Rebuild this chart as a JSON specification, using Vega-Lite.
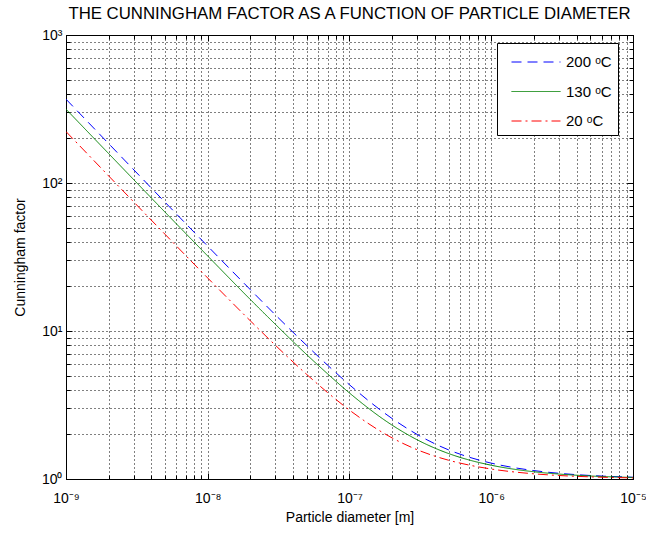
{
  "$schema": "https://vega.github.io/schema/vega-lite/v6.json",
  "width": 567,
  "height": 444,
  "autosize": {"type": "none"},
  "padding": {"left": 66, "top": 35, "right": 13, "bottom": 55},
  "background": "white",
  "config": {
    "font": "Liberation Sans, Arial, sans-serif",
    "view": {"stroke": "black", "strokeWidth": 1},
    "axis": {"labelColor": "black", "titleColor": "black", "tickColor": "black", "titleFontWeight": "normal", "labelFontSize": 14, "titleFontSize": 14, "domain": false, "minExtent": 0}
  },
  "title": {"text": "THE CUNNINGHAM FACTOR AS A FUNCTION OF PARTICLE DIAMETER", "fontSize": 16.8, "fontWeight": "normal", "color": "black", "anchor": "middle", "orient": "top", "baseline": "bottom", "offset": 6, "dy": 18, "frame": "group"},
  "data": {"values": [
    {"d": 1e-9, "cc": 368.4, "series": "200 ᵒC"},
    {"d": 2e-9, "cc": 184.5, "series": "200 ᵒC"},
    {"d": 5e-9, "cc": 74.1, "series": "200 ᵒC"},
    {"d": 1e-8, "cc": 37.4, "series": "200 ᵒC"},
    {"d": 2e-8, "cc": 19.0, "series": "200 ᵒC"},
    {"d": 3e-8, "cc": 12.85, "series": "200 ᵒC"},
    {"d": 5e-8, "cc": 7.97, "series": "200 ᵒC"},
    {"d": 7e-8, "cc": 5.88, "series": "200 ᵒC"},
    {"d": 1e-7, "cc": 4.33, "series": "200 ᵒC"},
    {"d": 2e-7, "cc": 2.56, "series": "200 ᵒC"},
    {"d": 3e-7, "cc": 2.0, "series": "200 ᵒC"},
    {"d": 5e-7, "cc": 1.573, "series": "200 ᵒC"},
    {"d": 7e-7, "cc": 1.403, "series": "200 ᵒC"},
    {"d": 1e-6, "cc": 1.28, "series": "200 ᵒC"},
    {"d": 2e-6, "cc": 1.14, "series": "200 ᵒC"},
    {"d": 3e-6, "cc": 1.093, "series": "200 ᵒC"},
    {"d": 5e-6, "cc": 1.056, "series": "200 ᵒC"},
    {"d": 1e-5, "cc": 1.028, "series": "200 ᵒC"},
    {"d": 1e-9, "cc": 315.4, "series": "130 ᵒC"},
    {"d": 2e-9, "cc": 158.0, "series": "130 ᵒC"},
    {"d": 5e-9, "cc": 63.5, "series": "130 ᵒC"},
    {"d": 1e-8, "cc": 32.1, "series": "130 ᵒC"},
    {"d": 2e-8, "cc": 16.3, "series": "130 ᵒC"},
    {"d": 3e-8, "cc": 11.09, "series": "130 ᵒC"},
    {"d": 5e-8, "cc": 6.91, "series": "130 ᵒC"},
    {"d": 7e-8, "cc": 5.14, "series": "130 ᵒC"},
    {"d": 1e-7, "cc": 3.81, "series": "130 ᵒC"},
    {"d": 2e-7, "cc": 2.31, "series": "130 ᵒC"},
    {"d": 3e-7, "cc": 1.841, "series": "130 ᵒC"},
    {"d": 5e-7, "cc": 1.486, "series": "130 ᵒC"},
    {"d": 7e-7, "cc": 1.343, "series": "130 ᵒC"},
    {"d": 1e-6, "cc": 1.239, "series": "130 ᵒC"},
    {"d": 2e-6, "cc": 1.119, "series": "130 ᵒC"},
    {"d": 3e-6, "cc": 1.08, "series": "130 ᵒC"},
    {"d": 5e-6, "cc": 1.048, "series": "130 ᵒC"},
    {"d": 1e-5, "cc": 1.024, "series": "130 ᵒC"},
    {"d": 1e-9, "cc": 222.6, "series": "20 ᵒC"},
    {"d": 2e-9, "cc": 111.6, "series": "20 ᵒC"},
    {"d": 5e-9, "cc": 45.0, "series": "20 ᵒC"},
    {"d": 1e-8, "cc": 22.8, "series": "20 ᵒC"},
    {"d": 2e-8, "cc": 11.7, "series": "20 ᵒC"},
    {"d": 3e-8, "cc": 8.01, "series": "20 ᵒC"},
    {"d": 5e-8, "cc": 5.08, "series": "20 ᵒC"},
    {"d": 7e-8, "cc": 3.84, "series": "20 ᵒC"},
    {"d": 1e-7, "cc": 2.92, "series": "20 ᵒC"},
    {"d": 2e-7, "cc": 1.894, "series": "20 ᵒC"},
    {"d": 3e-7, "cc": 1.577, "series": "20 ᵒC"},
    {"d": 5e-7, "cc": 1.339, "series": "20 ᵒC"},
    {"d": 7e-7, "cc": 1.241, "series": "20 ᵒC"},
    {"d": 1e-6, "cc": 1.168, "series": "20 ᵒC"},
    {"d": 2e-6, "cc": 1.084, "series": "20 ᵒC"},
    {"d": 3e-6, "cc": 1.056, "series": "20 ᵒC"},
    {"d": 5e-6, "cc": 1.034, "series": "20 ᵒC"},
    {"d": 1e-5, "cc": 1.017, "series": "20 ᵒC"}
  ]},
  "resolve": {"axis": {"x": "independent", "y": "independent"}},
  "layer": [
    {
      "mark": {"type": "line", "strokeWidth": 1, "interpolate": "monotone", "clip": true},
      "encoding": {
        "x": {"field": "d", "type": "quantitative", "scale": {"type": "log", "domain": [1e-9, 1e-5], "nice": false},
          "axis": {"orient": "bottom", "values": [1e-9,2e-9,3e-9,4e-9,5e-9,6e-9,7e-9,8e-9,9e-9,1e-8,2e-8,3e-8,4e-8,5e-8,6e-8,7e-8,8e-8,9e-8,1e-7,2e-7,3e-7,4e-7,5e-7,6e-7,7e-7,8e-7,9e-7,1e-6,2e-6,3e-6,4e-6,5e-6,6e-6,7e-6,8e-6,9e-6,1e-5],
            "grid": true, "gridColor": "black", "gridDash": [1, 3], "gridOpacity": 1, "gridWidth": 1, "ticks": false, "labels": false, "title": null}},
        "y": {"field": "cc", "type": "quantitative", "scale": {"type": "log", "domain": [1, 1000], "nice": false},
          "axis": {"orient": "left", "values": [1,2,3,4,5,6,7,8,9,10,20,30,40,50,60,70,80,90,100,200,300,400,500,600,700,800,900,1000],
            "grid": true, "gridColor": "black", "gridDash": [1, 3], "gridOpacity": 1, "gridWidth": 1, "ticks": false, "labels": false, "title": null}},
        "color": {"field": "series", "type": "nominal", "scale": {"domain": ["200 ᵒC", "130 ᵒC", "20 ᵒC"], "range": ["#0000ff", "#008000", "#ff0000"]},
          "legend": {"title": null, "orient": "none", "legendX": 431, "legendY": 8, "fillColor": "white", "strokeColor": "black", "padding": 6, "symbolOffset": 20, "symbolType": "M-2,0H2", "symbolSize": 600, "symbolStrokeWidth": 1, "labelFontSize": 15, "labelColor": "black", "rowPadding": 8.5, "labelOffset": 17}},
        "strokeDash": {"field": "series", "type": "nominal", "scale": {"domain": ["200 ᵒC", "130 ᵒC", "20 ᵒC"], "range": [[10, 6], [1, 0], [10, 4, 2, 4]]},
          "legend": {"title": null}}
      }
    },
    {
      "mark": {"type": "point", "opacity": 0},
      "encoding": {
        "x": {"field": "d", "type": "quantitative", "axis": {"orient": "bottom", "values": [1e-9,2e-9,3e-9,4e-9,5e-9,6e-9,7e-9,8e-9,9e-9,1e-8,2e-8,3e-8,4e-8,5e-8,6e-8,7e-8,8e-8,9e-8,1e-7,2e-7,3e-7,4e-7,5e-7,6e-7,7e-7,8e-7,9e-7,1e-6,2e-6,3e-6,4e-6,5e-6,6e-6,7e-6,8e-6,9e-6,1e-5], "grid": false, "ticks": true, "tickSize": -4, "labels": false, "title": null}},
        "y": {"field": "cc", "type": "quantitative", "axis": {"orient": "left", "values": [1,2,3,4,5,6,7,8,9,10,20,30,40,50,60,70,80,90,100,200,300,400,500,600,700,800,900,1000], "grid": false, "ticks": true, "tickSize": -4, "labels": false, "title": null}}
      }
    },
    {
      "mark": {"type": "point", "opacity": 0},
      "encoding": {
        "x": {"field": "d", "type": "quantitative", "axis": {"orient": "top", "values": [1e-9,2e-9,3e-9,4e-9,5e-9,6e-9,7e-9,8e-9,9e-9,1e-8,2e-8,3e-8,4e-8,5e-8,6e-8,7e-8,8e-8,9e-8,1e-7,2e-7,3e-7,4e-7,5e-7,6e-7,7e-7,8e-7,9e-7,1e-6,2e-6,3e-6,4e-6,5e-6,6e-6,7e-6,8e-6,9e-6,1e-5], "grid": false, "ticks": true, "tickSize": -4, "labels": false, "title": null}},
        "y": {"field": "cc", "type": "quantitative", "axis": {"orient": "right", "values": [1,2,3,4,5,6,7,8,9,10,20,30,40,50,60,70,80,90,100,200,300,400,500,600,700,800,900,1000], "grid": false, "ticks": true, "tickSize": -4, "labels": false, "title": null}}
      }
    },
    {
      "mark": {"type": "point", "opacity": 0},
      "encoding": {
        "x": {"field": "d", "type": "quantitative", "axis": {"orient": "bottom", "values": [1e-9, 1e-8, 1e-7, 1e-6, 1e-5], "grid": false, "ticks": true, "tickSize": -6, "labels": true, "labelFlush": false, "labelOverlap": false, "labelBound": false, "labelPadding": 18,
          "labelExpr": "datum.value < 5e-9 ? '10⁻⁹' : datum.value < 5e-8 ? '10⁻⁸' : datum.value < 5e-7 ? '10⁻⁷' : datum.value < 5e-6 ? '10⁻⁶' : '10⁻⁵'",
          "title": "Particle diameter [m]", "titlePadding": 5}},
        "y": {"field": "cc", "type": "quantitative", "axis": {"orient": "left", "values": [1, 10, 100, 1000], "grid": false, "ticks": true, "tickSize": -6, "labels": true, "labelOverlap": false, "labelBound": false, "labelFlush": false, "labelPadding": 10,
          "labelExpr": "datum.value < 5 ? '10⁰' : datum.value < 50 ? '10¹' : datum.value < 500 ? '10²' : '10³'",
          "title": "Cunningham factor", "titlePadding": 14}}
      }
    },
    {
      "mark": {"type": "point", "opacity": 0},
      "encoding": {
        "x": {"field": "d", "type": "quantitative", "axis": {"orient": "top", "values": [1e-9, 1e-8, 1e-7, 1e-6, 1e-5], "grid": false, "ticks": true, "tickSize": -6, "labels": false, "title": null}},
        "y": {"field": "cc", "type": "quantitative", "axis": {"orient": "right", "values": [1, 10, 100, 1000], "grid": false, "ticks": true, "tickSize": -6, "labels": false, "title": null}}
      }
    }
  ]
}
